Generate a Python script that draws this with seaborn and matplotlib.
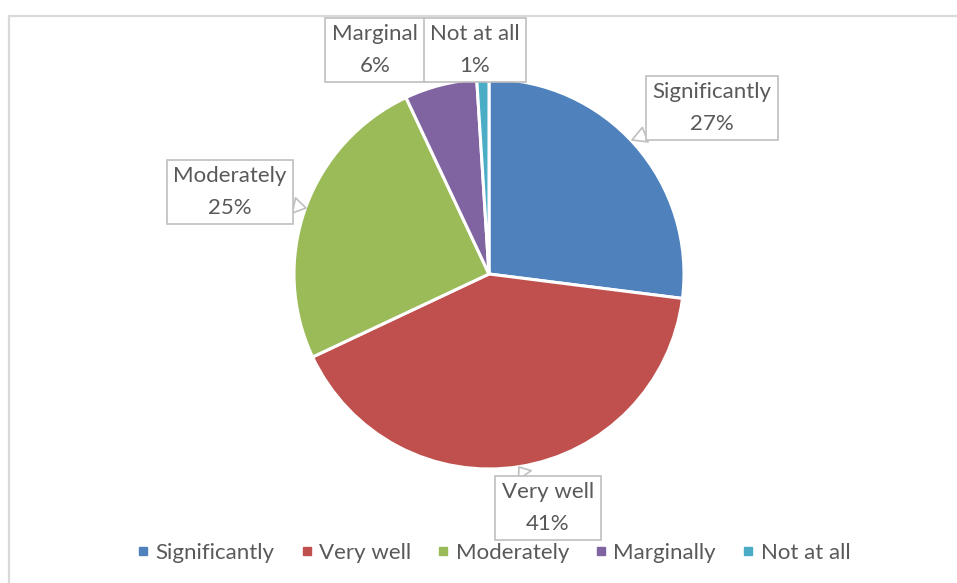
import matplotlib
matplotlib.use("Agg")
import matplotlib.pyplot as plt
from matplotlib.lines import Line2D
from matplotlib.patches import Rectangle
import seaborn as sns

# data
categories = ["Significantly", "Very well", "Moderately", "Marginally", "Not at all"]
label_names = ["Significantly", "Very well", "Moderately", "Marginal", "Not at all"]
shares = [27, 41, 25, 6, 1]
colors = ["#4F81BD", "#C0504D", "#9BBB59", "#8064A2", "#4BACC6"]

sns.set_theme(style="white")
plt.rcParams["font.family"] = ["Lato", "DejaVu Sans"]
pal = sns.color_palette(colors)

W, H = 957, 583
fig = plt.figure(figsize=(W / 100, H / 100), dpi=100)
ax = fig.add_axes([0, 0, 1, 1])

# pixel helper (y measured from top)
def P(x, y):
    return (x, H - y)

ax.pie(shares, colors=pal, startangle=90, counterclock=False,
       center=P(489, 274), radius=195,
       wedgeprops=dict(edgecolor="white", linewidth=2.2))
ax.set_xlim(0, W)
ax.set_ylim(0, H)
ax.set_aspect("equal")
ax.axis("off")

# outer chart frame
ax.add_patch(Rectangle(P(9, 600), 1000, 584, fill=False, ec="#D9D9D9", lw=1.6, clip_on=False))

# callout labels: box centre, pointer tip (None = no pointer)
callouts = [
    ((712, 108), (632, 140)),
    ((548, 508), (519, 467)),
    ((230, 192), (306, 208)),
    ((375, 50), None),
    ((475, 50), None),
]
txt_color = "#595959"
fs = 16
ls = 1.7
for name, val, (box, tip) in zip(label_names, shares, callouts):
    s = f"{name}\n{val}%"
    bb = dict(boxstyle="square,pad=0.3", fc="white", ec="#BFBFBF", lw=1.2)
    if tip is None:
        ax.text(*P(*box), s, ha="center", va="center", fontsize=fs, color=txt_color,
                linespacing=ls, bbox=bb)
    else:
        ax.annotate(s, xy=P(*tip), xytext=P(*box), ha="center", va="center",
                    fontsize=fs, color=txt_color, linespacing=ls, bbox=bb,
                    arrowprops=dict(arrowstyle="wedge,tail_width=0.7", fc="white",
                                    ec="#BFBFBF", lw=1.2, shrinkA=0, shrinkB=0))

handles = [Line2D([], [], marker="s", ls="", color=c, markersize=5.5) for c in pal]
ax.legend(handles, categories, loc="center", ncol=5, frameon=False,
          bbox_to_anchor=(494 / W, 1 - 553 / H), fontsize=fs,
          handlelength=0.5, handletextpad=0.3, columnspacing=1.2,
          labelcolor=txt_color)

fig.savefig("out.png", dpi=100)
